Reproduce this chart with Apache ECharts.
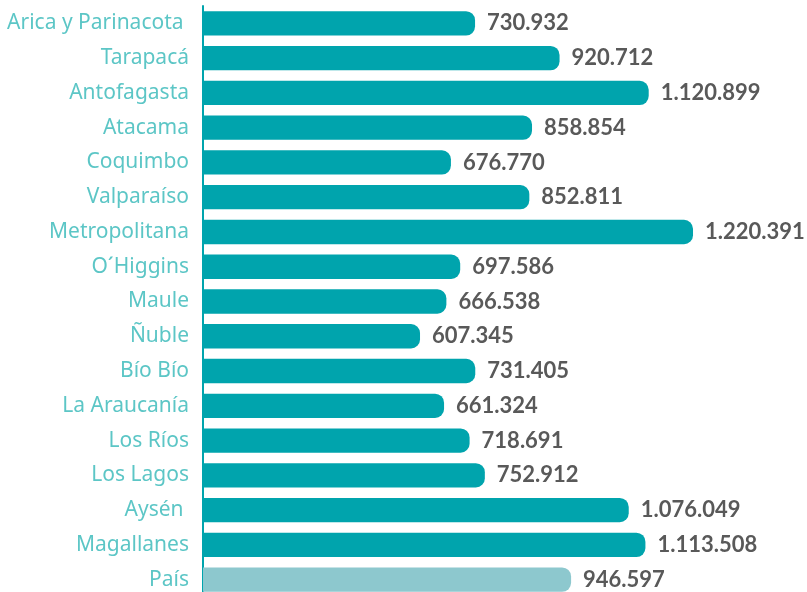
<!DOCTYPE html>
<html>
<head>
<meta charset="utf-8">
<script src="https://cdn.jsdelivr.net/npm/echarts@6/dist/echarts.min.js"></script>
<style>
  html, body { margin: 0; padding: 0; background: #fff; overflow: hidden; }
  /* el lienzo es un poco más alto que la ventana: la última barra queda cortada */
  #chart { width: 807px; height: 604px; }
</style>
</head>
<body>
<div id="chart"></div>
<script>
// regiones, de arriba hacia abajo
const regiones = [
  'Arica y Parinacota ', 'Tarapacá', 'Antofagasta', 'Atacama', 'Coquimbo',
  'Valparaíso', 'Metropolitana', 'O´Higgins', 'Maule', 'Ñuble', 'Bío Bío',
  'La Araucanía', 'Los Ríos', 'Los Lagos', 'Aysén ', 'Magallanes', 'País'
];
const valores = [
  730932, 920712, 1120899, 858854, 676770, 852811, 1220391, 697586, 666538,
  607345, 731405, 661324, 718691, 752912, 1076049, 1113508, 946597
];
const colorBarra = '#00a4ad';
const colorPais = '#8dc8ce';

const chart = echarts.init(document.getElementById('chart'));

// formato con punto como separador de miles
function formatoMiles(v) {
  return String(v).replace(/\B(?=(\d{3})+(?!\d))/g, '.');
}

const option = {
  animation: false,
  grid: {
    left: 203,
    width: 570,
    top: 6,
    height: 591
  },
  xAxis: {
    type: 'value',
    min: 120000,
    max: 1400000,
    show: false
  },
  yAxis: {
    type: 'category',
    inverse: true,
    data: regiones,
    axisLine: {
      show: true,
      lineStyle: { color: colorBarra, width: 2 }
    },
    axisTick: { show: false },
    axisLabel: {
      margin: 14,
      color: '#5cc6c6',
      fontFamily: 'Noto Sans',
      fontSize: 21
    }
  },
  series: [
    {
      type: 'bar',
      barCategoryGap: '30%',
      data: valores.map((v, i) => ({
        value: v,
        itemStyle: { color: i === valores.length - 1 ? colorPais : colorBarra }
      })),
      itemStyle: { borderRadius: [0, 9, 9, 0] },
      label: {
        show: true,
        position: 'right',
        distance: 12,
        color: '#595959',
        fontFamily: 'Lato',
        fontWeight: 'bold',
        fontSize: 22,
        formatter: (p) => formatoMiles(p.value)
      }
    }
  ]
};

chart.setOption(option);
</script>
</body>
</html>
